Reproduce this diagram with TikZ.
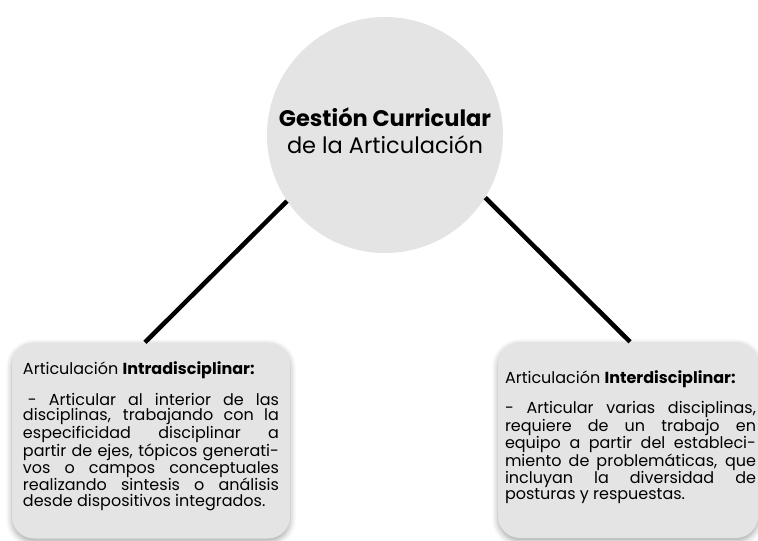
\documentclass[tikz,border=0pt]{standalone}
\usepackage{fontspec}
\setmainfont{Poppins}
\usetikzlibrary{positioning,shadows.blur}
\definecolor{fondo}{HTML}{E4E4E4}

\begin{document}
\begin{tikzpicture}[x=1pt,y=-1pt,
  burbuja/.style={circle, fill=fondo, minimum size=236pt, inner sep=0pt},
  titulo/.style={align=center, inner sep=0pt, font=\fontsize{22.5}{27}\selectfont},
  caja/.style={rectangle, rounded corners=22pt, fill=fondo, minimum width=#1, minimum height=196pt,
    blur shadow={shadow xshift=0pt, shadow yshift=-3pt, shadow blur radius=6pt, shadow opacity=35}},
  texto/.style={text width=#1, align=justify, inner sep=0pt, font=\fontsize{16}{15.7}\selectfont},
  enlace/.style={line width=4.5pt}]
  \useasboundingbox (0,0) rectangle (758,541);

  % Circulo central
  \node[burbuja] (gestion) at (385,135) {};
  \node[titulo] (gestiontitulo) at ([yshift=4.5pt]gestion.center) {\textbf{Gestión Curricular}\\de la Articulación};

  % Cajas inferiores
  \node[caja=278pt] (intra) at (151,440.5) {};
  \node[caja=260pt] (inter) at (628,440) {};

  \node[texto=256pt] (intratexto) at ([yshift=4pt]intra.center) {%
    Articulación \textbf{Intradisciplinar:}\par\vspace{13pt}
    \hspace*{5pt}- Articular al interior de las\linebreak
    disciplinas, trabajando con la\linebreak
    especificidad disciplinar a\linebreak
    partir de ejes, tópicos generati-\linebreak
    vos o campos conceptuales\linebreak
    realizando sintesis o análisis\linebreak
    desde dispositivos integrados.};

  \node[texto=251pt] (intertexto) at ([xshift=2.5pt,yshift=3pt]inter.center) {%
    Articulación \textbf{Interdisciplinar:}\par\vspace{13pt}
    - Articular varias disciplinas,\linebreak
    requiere de un trabajo en\linebreak
    equipo a partir del estableci-\linebreak
    miento de problemáticas, que\linebreak
    incluyan la diversidad de\linebreak
    posturas y respuestas.};

  % Conectores
  \draw[enlace] (gestion.214) -- ([xshift=-6pt]intra.north);
  \draw[enlace] (gestion.328) -- ([xshift=2pt]inter.north);
\end{tikzpicture}
\end{document}
